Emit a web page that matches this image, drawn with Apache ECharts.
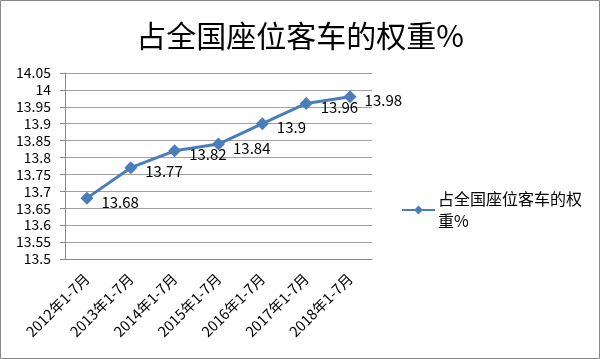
<!DOCTYPE html>
<html><head><meta charset="utf-8">
<script src="https://cdn.jsdelivr.net/npm/echarts@6/dist/echarts.min.js"></script>
<style>html,body{margin:0;padding:0;background:#fff}#c{width:600px;height:359px}</style>
</head><body><div id="c"></div>
<script>
var categories = ['2012年1-7月','2013年1-7月','2014年1-7月','2015年1-7月','2016年1-7月','2017年1-7月','2018年1-7月'];
var values = [13.68, 13.77, 13.82, 13.84, 13.9, 13.96, 13.98];
var seriesName = '占全国座位客车的权重%';
var chart = echarts.init(document.getElementById('c'));
var font = '"Noto Sans CJK SC", "Liberation Sans", sans-serif';
chart.setOption({
  animation: false,
  textStyle: {fontFamily: font},
  title: {text: '占全国座位客车的权重%', left: 'center', top: 16,
    textStyle: {fontSize: 30, fontWeight: 'normal', color: '#000', fontFamily: font}},
  graphic: [{type: 'rect', shape: {x: 0.5, y: 0.5, width: 599, height: 358}, style: {fill: 'none', stroke: '#888', lineWidth: 1}}],
  legend: {left: 396, top: 183, orient: 'vertical', itemWidth: 33, itemHeight: 11, itemGap: 4,
    data: [seriesName],
    textStyle: {fontSize: 16, color: '#000', width: 150, overflow: 'break', lineHeight: 22, padding: [0, 0, 0, -2]}},
  grid: {left: 65, right: 228, top: 73, bottom: 100},
  xAxis: {type: 'category', data: categories, boundaryGap: true,
    axisLine: {lineStyle: {color: '#888'}},
    axisTick: {lineStyle: {color: '#888'}, length: 5},
    axisLabel: {rotate: 45, fontSize: 14.5, color: '#000', margin: 17}},
  yAxis: {type: 'value', min: 13.5, max: 14.05, interval: 0.05,
    axisLine: {show: true, lineStyle: {color: '#888'}},
    axisTick: {show: true, lineStyle: {color: '#888'}, length: 5},
    splitLine: {lineStyle: {color: '#a0a0a0'}},
    axisLabel: {fontSize: 14, color: '#000', margin: 14}},
  series: [{name: seriesName, type: 'line', data: values,
    symbol: 'diamond', symbolSize: 13,
    lineStyle: {color: '#4a7ebb', width: 3},
    itemStyle: {color: '#4a7ebb'},
    label: {show: true, position: 'right', distance: 8, offset: [0, 4], fontSize: 15, color: '#000'}}]
});
</script></body></html>
